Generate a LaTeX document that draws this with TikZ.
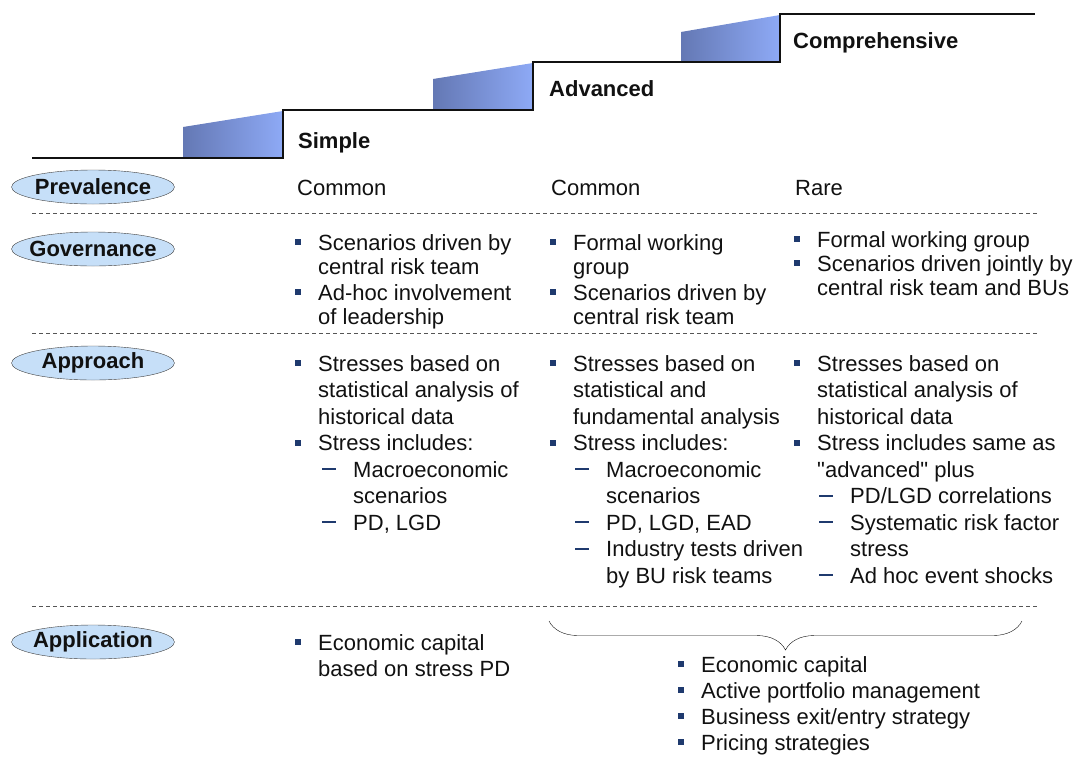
\documentclass[tikz,border=0pt]{standalone}
\usepackage{fontspec}
\setmainfont{Liberation Sans}
\usepackage{xcolor}
\usepackage{tikz}
\usetikzlibrary{shapes.geometric,decorations.pathreplacing,positioning}
\definecolor{ink}{HTML}{111111}
\definecolor{navy}{HTML}{1F3A6E}
\definecolor{tagfill}{HTML}{C6DFF8}
\definecolor{stepdark}{HTML}{6478B4}
\definecolor{steplight}{HTML}{8EAAF6}
\definecolor{rulegray}{HTML}{555555}
\newcommand{\RowSkip}{26.5}
\tikzset{
  RowTag/.style={
    ellipse, draw=ink!80, thin, fill=tagfill,
    minimum width=163pt, minimum height=34pt, inner sep=0pt
  },
  TagText/.style={inner sep=0pt, text=ink,
    font=\bfseries\fontsize{22}{26}\selectfont},
  StepLabel/.style={anchor=base west, inner sep=0pt, text=ink,
    font=\bfseries\fontsize{22}{26}\selectfont},
  CellText/.style={anchor=base west, inner sep=0pt, text=ink,
    font=\fontsize{22}{\RowSkip}\selectfont},
  SqBullet/.style={fill=navy, minimum size=6pt, inner sep=0pt},
  Separator/.style={draw=rulegray, thin, dash pattern=on 4pt off 3pt}
}
\newcommand{\BulletItem}[4]{%
  % #1 = node name, #2 = x of text, #3 = baseline of first line, #4 = text
  \node[SqBullet] (#1-b) at (#2-20,#3-8) {};
  \node[CellText] (#1) at (#2,#3) {\parbox[t]{400pt}{\raggedright #4}};
}
\newcommand{\SubItem}[4]{%
  % same arguments, with a dash in front
  \coordinate (#1-d) at (#2-31,#3-8);
  \draw[navy, line width=2pt] (#1-d) -- ++(14,0);
  \node[CellText] (#1) at (#2,#3) {\parbox[t]{400pt}{\raggedright #4}};
}

\begin{document}
\begin{tikzpicture}[x=1pt, y=-1pt, line join=miter]
  \useasboundingbox (0,0) rectangle (1075,756);

  % steps
  \shade[left color=stepdark, right color=steplight] (183,158) -- (183,127) -- (283,111) -- (283,158) -- cycle;
  \shade[left color=stepdark, right color=steplight] (433,110) -- (433,79) -- (533,63) -- (533,110) -- cycle;
  \shade[left color=stepdark, right color=steplight] (681,62) -- (681,32) -- (780,15) -- (780,62) -- cycle;
  \draw[ink, line width=2.5pt] (32,158) -- (283,158) -- (283,110) -- (533,110)
    -- (533,62) -- (780,62) -- (780,14) -- (1035,14);

  \node[StepLabel] (simple) at (298,148) {Simple};
  \node[StepLabel] (advanced) at (549,96) {Advanced};
  \node[StepLabel] (compr) at (793,48) {Comprehensive};

  % row tags
  \node[RowTag, label={[TagText]center:Prevalence}] (prev) at (93,187) {};
  \node[RowTag, label={[TagText]center:Governance}] (gov) at (93,249) {};
  \node[RowTag, label={[TagText]center:Approach}] (appr) at (93,363) {};
  \node[RowTag, label={[TagText]center:Application}] (appl) at (93,642) {};

  \draw[Separator] (32,213) -- (1037,213);
  \draw[Separator] (32,333) -- (1037,333);
  \draw[Separator] (32,606) -- (1037,606);

  % prevalence
  \node[CellText] (prev1) at (297,195) {Common};
  \node[CellText] (prev2) at (551,195) {Common};
  \node[CellText] (prev3) at (795,195) {Rare};

  % governance
  \renewcommand{\RowSkip}{24.5}
  \BulletItem{gov1a}{318}{250}{Scenarios driven by\\central risk team}
  \BulletItem{gov1b}{318}{300}{Ad-hoc involvement\\of leadership}
  \BulletItem{gov2a}{573}{250}{Formal working\\group}
  \BulletItem{gov2b}{573}{300}{Scenarios driven by\\central risk team}
  \BulletItem{gov3a}{817}{247}{Formal working group}
  \BulletItem{gov3b}{817}{271}{Scenarios driven jointly by\\central risk team and BUs}

  % approach
  \renewcommand{\RowSkip}{26.5}
  \BulletItem{appr1a}{318}{371}{Stresses based on\\statistical analysis of\\historical data}
  \BulletItem{appr1b}{318}{450.5}{Stress includes:}
  \SubItem{appr1c}{353}{477}{Macroeconomic\\scenarios}
  \SubItem{appr1d}{353}{530}{PD, LGD}
  \BulletItem{appr2a}{573}{371}{Stresses based on\\statistical and\\fundamental analysis}
  \BulletItem{appr2b}{573}{450.5}{Stress includes:}
  \SubItem{appr2c}{606}{477}{Macroeconomic\\scenarios}
  \SubItem{appr2d}{606}{530}{PD, LGD, EAD}
  \SubItem{appr2e}{606}{556.5}{Industry tests driven\\by BU risk teams}
  \BulletItem{appr3a}{817}{371}{Stresses based on\\statistical analysis of\\historical data}
  \BulletItem{appr3b}{817}{450.5}{Stress includes same as\\\textquotedbl advanced\textquotedbl{} plus}
  \SubItem{appr3c}{850}{503.5}{PD/LGD correlations}
  \SubItem{appr3d}{850}{530}{Systematic risk factor\\stress}
  \SubItem{appr3e}{850}{583}{Ad hoc event shocks}

  % application
  \renewcommand{\RowSkip}{26}
  \BulletItem{appl1}{318}{650}{Economic capital\\based on stress PD}
  \coordinate (brL) at (549,621);
  \coordinate (brR) at (1022,621);
  \draw[ink, thin, decorate, decoration={brace, mirror, amplitude=29pt}] (brL) -- (brR);
  \BulletItem{appl2a}{701}{672}{Economic capital}
  \BulletItem{appl2b}{701}{698}{Active portfolio management}
  \BulletItem{appl2c}{701}{724}{Business exit/entry strategy}
  \BulletItem{appl2d}{701}{750}{Pricing strategies}
\end{tikzpicture}
\end{document}
